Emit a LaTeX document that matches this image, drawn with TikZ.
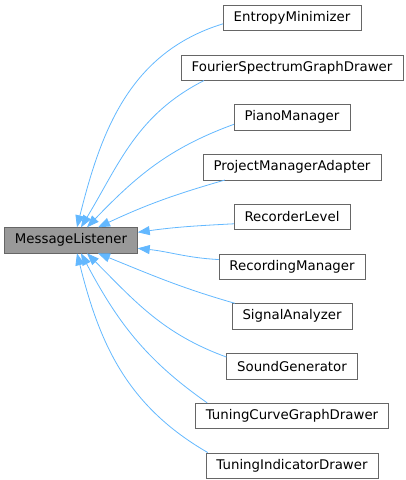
\documentclass[tikz,border=0pt]{standalone}
\usepackage{fontspec}
\setmainfont{DejaVu Sans}
\usetikzlibrary{positioning,arrows.meta}

\definecolor{edgeblue}{HTML}{63B8FF}
\definecolor{boxline}{HTML}{666666}
\definecolor{basefill}{HTML}{999999}

\begin{document}
\begin{tikzpicture}[
    x=1pt, y=1pt,
    node distance=23.75pt,
    box/.style={
        draw=boxline,
        fill=white,
        minimum height=25.6pt,
        inner xsep=10.5pt,
        font=\fontsize{13.33}{15}\selectfont
    },
    base/.style={
        box,
        fill=basefill
    },
    arrow/.style={
        {Triangle[length=12pt,width=9pt]}-,
        edgeblue,
        line width=0.8pt
    }
]
\useasboundingbox (0,0) rectangle (405,480);

\node[base] (listener) at (71,239.7) {MessageListener};

\node[box] (entropy) at (292,462.2) {EntropyMinimizer};
\node[box, below=of entropy] (fourier) {FourierSpectrumGraphDrawer};
\node[box, below=of fourier] (piano) {PianoManager};
\node[box, below=of piano] (project) {ProjectManagerAdapter};
\node[box, below=of project] (recorder) {RecorderLevel};
\node[box, below=of recorder] (recording) {RecordingManager};
\node[box, below=of recording] (signal) {SignalAnalyzer};
\node[box, below=of signal] (sound) {SoundGenerator};
\node[box, below=of sound] (curve) {TuningCurveGraphDrawer};
\node[box, below=of curve] (indicator) {TuningIndicatorDrawer};

% upper children
\draw[arrow] ([xshift=6pt]listener.north) to[out=76,in=197] ([yshift=-6pt]entropy.west);
\draw[arrow] ([xshift=10pt]listener.north) to[out=59,in=207] ([xshift=23pt]fourier.south west);
\draw[arrow] ([xshift=16pt]listener.north) to[out=46,in=200] ([yshift=-7pt]piano.west);
\draw[arrow] ([xshift=27pt]listener.north) to[out=25,in=196] ([xshift=22pt]project.south west);

% side children
\draw[arrow] ([yshift=8pt]listener.east) to[out=8,in=183] ([yshift=-7pt]recorder.west);
\draw[arrow] ([yshift=-8pt]listener.east) to[out=-6,in=177] ([yshift=7pt]recording.west);

% lower children
\draw[arrow] ([xshift=27pt]listener.south) to[out=-22,in=164] ([xshift=3pt]signal.north west);
\draw[arrow] ([xshift=16pt]listener.south) to[out=-45,in=160] ([yshift=9pt]sound.west);
\draw[arrow] ([xshift=10pt]listener.south) to[out=-62,in=145] ([xshift=12pt]curve.north west);
\draw[arrow] ([xshift=6pt]listener.south) to[out=-76,in=150] ([xshift=2pt]indicator.north west);

\end{tikzpicture}
\end{document}
